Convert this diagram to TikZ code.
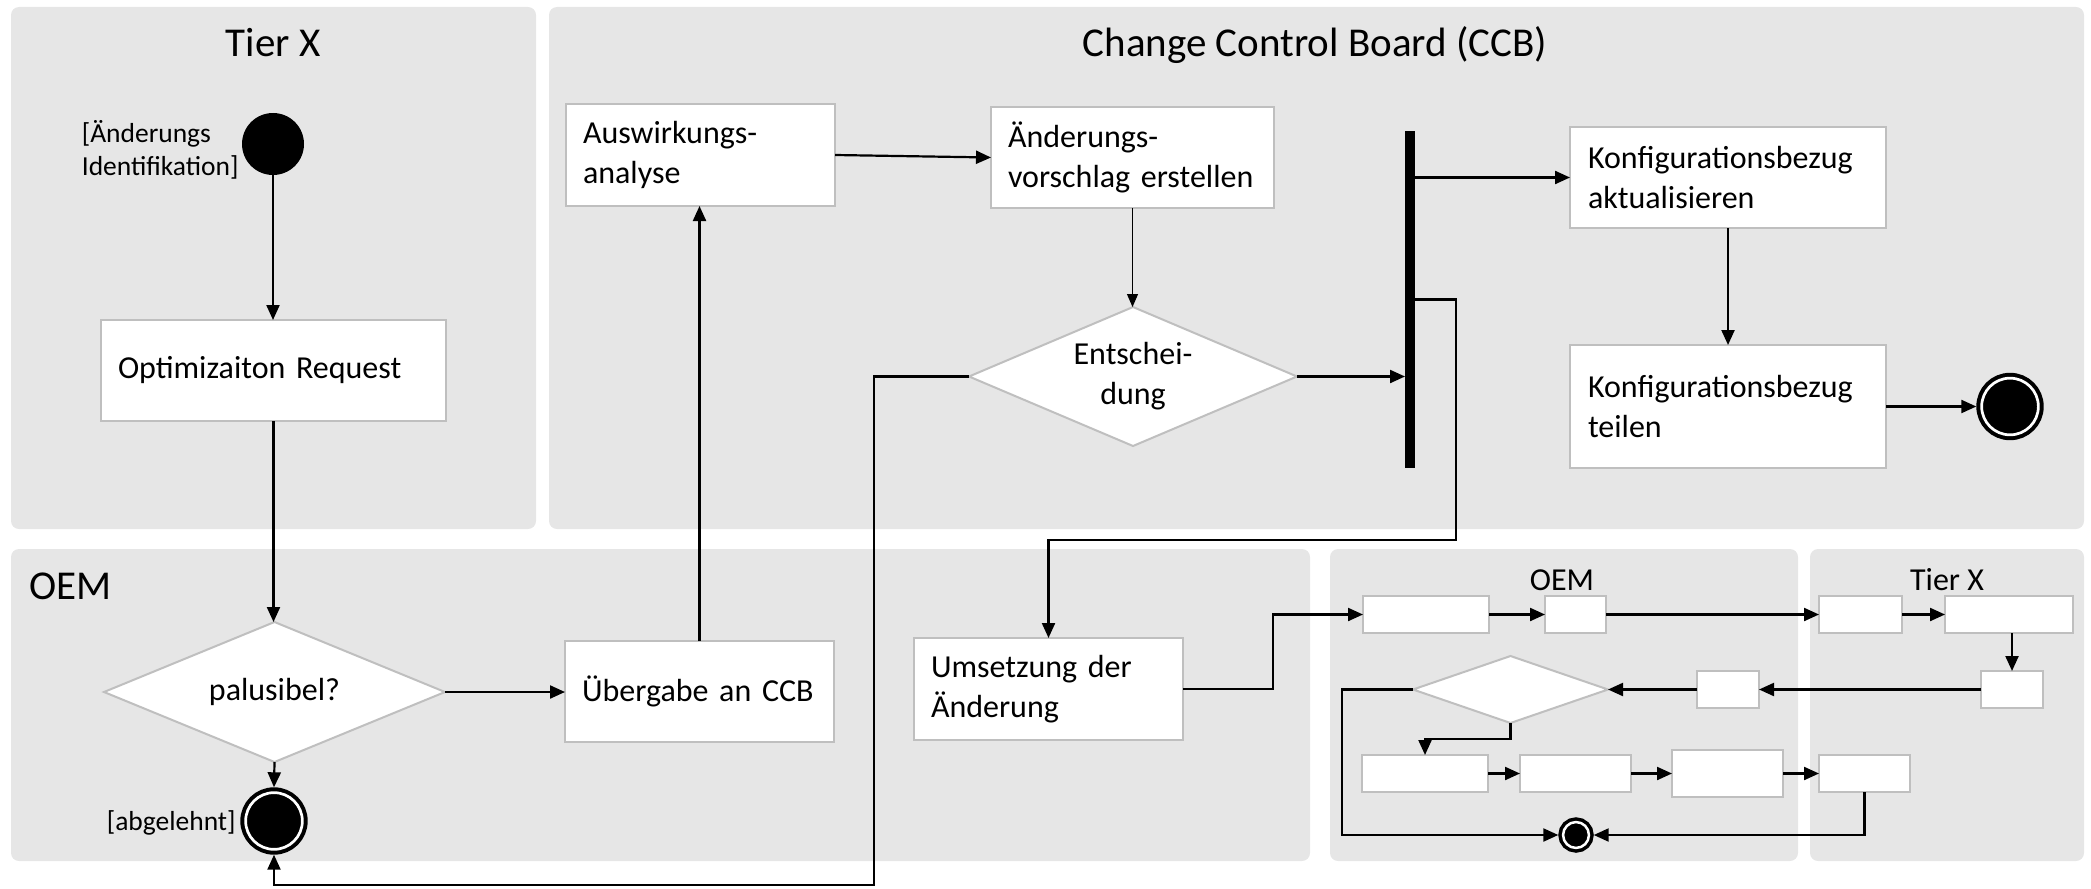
\documentclass[tikz,border=0pt]{standalone}
\usepackage{fontspec}
\setmainfont{Carlito}
\usetikzlibrary{arrows.meta,shapes.geometric}
\definecolor{lane}{HTML}{E6E6E6}
\definecolor{boxline}{HTML}{BFBFBF}
\newcommand\myTitle{\fontsize{20.5}{24}\selectfont}
\newcommand\myBody{\fontsize{16}{20}\selectfont}
\newcommand\myLabel{\fontsize{13.75}{16.5}\selectfont}
\hyphenpenalty=10000
\exhyphenpenalty=10000
\begin{document}
\begin{tikzpicture}[x=0.5pt,y=-0.5pt,
  lanebox/.style={fill=lane, draw=none, rounded corners=4pt},
  actbox/.style={draw=boxline, fill=white, line width=1pt, inner xsep=8.5pt, inner ysep=0pt, align=left, font=\myBody, outer sep=0pt},
  minibox/.style={draw=boxline, fill=white, line width=1pt, inner sep=0pt, outer sep=0pt, minimum height=18.5pt},
  decision/.style={diamond, draw=boxline, fill=white, line width=1pt, inner sep=0pt, aspect=2.4, align=center, font=\myBody, outer sep=0pt},
  startnode/.style={circle, fill=black, inner sep=0pt, minimum size=31pt},
  endbig/.style={circle, draw=black, fill=black, double=white, line width=2pt, double distance=1.35pt, inner sep=0pt, minimum size=28.35pt, outer sep=2.675pt},
  endsmall/.style={circle, draw=black, fill=black, double=white, line width=1.75pt, double distance=1.25pt, inner sep=0pt, minimum size=12.95pt, outer sep=2.375pt},
  conn/.style={draw=black, line width=1.1pt, -{Triangle[length=7.5pt,width=6.5pt]}},
  thinconn/.style={draw=black, line width=0.6pt, -{Triangle[length=6.5pt,width=5.5pt]}},
  lanetitle/.style={font=\myTitle, inner sep=0pt, anchor=base},
  minititle/.style={font=\myBody, inner sep=0pt, anchor=base},
  guard/.style={font=\myLabel, inner sep=0pt, align=left, anchor=east}
]
\useasboundingbox (0,0) rectangle (2091,888);
% lanes
\fill[lanebox] (11,7) rectangle (536,529);
\fill[lanebox] (549,7) rectangle (2084,529);
\fill[lanebox] (11,549) rectangle (1310,861);
\fill[lanebox] (1330,549) rectangle (1798,861);
\fill[lanebox] (1810,549) rectangle (2084,861);
% lane titles
\node[lanetitle] (tTier) at (273,57) {Tier X};
\node[lanetitle] (tCCB) at (1315,57) {Change Control Board (CCB)};
\node[lanetitle, anchor=base west] (tOEM) at (29,599) {OEM};
\node[minititle] (tOEMs) at (1562,590) {OEM};
\node[minititle] (tTiers) at (1947,590) {Tier X};
% main nodes
\node[startnode] (start) at (273,144) {};
\node[guard] (g1) at (239,150) {[Änderungs\\Identifikation]};
\node[actbox, text width=155.5pt, minimum height=50.5pt] (opt) at (273.5,370.5) {Optimizaiton~Request};
\node[decision, minimum width=170.5pt, minimum height=70pt] (pal) at (274.5,692) {palusibel?};
\node[endbig] (fin1) at (274,821) {};
\node[guard] (g2) at (236,823) {[abgelehnt]};
\node[actbox, text width=117.5pt, minimum height=50.5pt] (ueb) at (699.5,691.5) {Übergabe~an~CCB};
\node[actbox, text width=117.5pt, minimum height=51pt] (ausw) at (700.5,155) {Auswirkungs-\\analyse};
\node[actbox, text width=124.5pt, minimum height=50.5pt] (aend) at (1132.5,157.5) {Änderungs-\\vorschlag~erstellen};
\node[decision, minimum width=164pt, minimum height=69.5pt] (ent) at (1133,376.5) {Entschei-\\dung};
\node[fill=black, inner sep=0pt, outer sep=0pt, minimum width=5pt, minimum height=168.5pt] (bar) at (1410,299.5) {};
\node[actbox, inner xsep=9pt, text width=140pt, minimum height=50.5pt] (k1) at (1728,177.5) {Konfigurationsbezug\\aktualisieren};
\node[actbox, inner xsep=9pt, text width=140pt, minimum height=61.5pt] (k2) at (1728,406.5) {Konfigurationsbezug\\teilen};
\node[endbig] (fin2) at (2010,406.5) {};
\node[actbox, text width=117.5pt, minimum height=51pt] (umst) at (1048.5,689) {Umsetzung~der\\Änderung};
% mini diagram
\node[minibox, minimum width=63pt] (a1) at (1426,614.5) {};
\node[minibox, minimum width=30.5pt] (a2) at (1575.5,614.5) {};
\node[minibox, minimum width=41.5pt] (b1) at (1860.5,614.5) {};
\node[minibox, minimum width=64pt] (b2) at (2009,614.5) {};
\node[minibox, minimum width=31pt] (b3) at (2012,689.5) {};
\node[minibox, minimum width=31pt] (a3) at (1728,689.5) {};
\node[decision, minimum width=97.5pt, minimum height=33.5pt] (md) at (1510.5,689.5) {};
\node[minibox, minimum width=63pt] (c1) at (1425,773.5) {};
\node[minibox, minimum width=55.5pt] (c2) at (1575.5,773.5) {};
\node[minibox, minimum width=55.5pt, minimum height=23.5pt] (c3) at (1727.5,773.5) {};
\node[minibox, minimum width=45.5pt] (b4) at (1864.5,773.5) {};
\node[endsmall] (fin3) at (1576,835) {};
% bend points
\coordinate (j1) at (1456,540);
\coordinate (j2) at (1273,614.5);
\coordinate (j3) at (874,885);
\coordinate (j4) at (1342,835);
\coordinate (j5) at (1425,739);
% connectors
\draw[conn] (start.south) -- (start.south |- opt.north);
\draw[conn] (opt.south) -- (opt.south |- pal.north);
\draw[conn] (pal.south) -- (fin1.north);
\draw[conn] (pal.east) -- (pal.east -| ueb.west);
\draw[conn] (ueb.north) -- (ueb.north |- ausw.south);
\draw[conn] (ausw.east) -- (aend.west);
\draw[thinconn] (aend.south) -- (aend.south |- ent.north);
\draw[conn] (ent.east) -- (ent.east -| bar.west);
\draw[conn] (bar.east |- k1.west) -- (k1.west);
\draw[conn] (k1.south) -- (k2.north);
\draw[conn] (k2.east) -- (fin2.west);
\draw[conn] (bar.east) -| (j1) -| (umst.north);
\draw[conn] (umst.east) -| (j2) -- (a1.west);
\draw[conn] (ent.west) -| (j3) -| (fin1.south);
% mini connectors
\draw[conn] (a1.east) -- (a2.west);
\draw[conn] (a2.east) -- (b1.west);
\draw[conn] (b1.east) -- (b2.west);
\draw[conn] (b3.north |- b2.south) -- (b3.north);
\draw[conn] (b3.west) -- (a3.east);
\draw[conn] (a3.west) -- (md.east);
\draw[conn] (md.west) -| (j4) -- (fin3.west);
\draw[conn] (b4.south) |- (fin3.east);
\draw[conn] (md.south) |- (j5) -- (c1.north);
\draw[conn] (c1.east) -- (c2.west);
\draw[conn] (c2.east) -- (c3.west);
\draw[conn] (c3.east) -- (b4.west);
\end{tikzpicture}
\end{document}
